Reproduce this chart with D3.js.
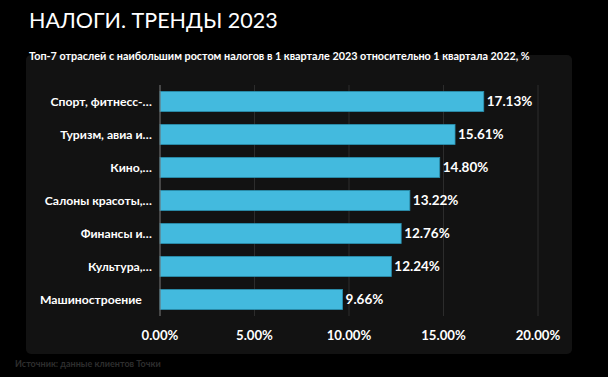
<!DOCTYPE html>
<html>
<head>
<meta charset="utf-8">
<style>
  body { margin: 0; background: #000; }
  svg { display: block; font-family: Lato, "Open Sans", sans-serif; }
</style>
</head>
<body>
<script src="https://cdn.jsdelivr.net/npm/d3@7"></script>
<script>
// данные
var categories = ["Спорт, фитнесс-…", "Туризм, авиа и…", "Кино,…", "Салоны красоты,…", "Финансы и…", "Культура,…", "Машиностроение"];
var values = [17.13, 15.61, 14.80, 13.22, 12.76, 12.24, 9.66];
var ticks = [0, 5, 10, 15, 20];
var title = "НАЛОГИ. ТРЕНДЫ 2023";
var subtitle = "Топ-7 отраслей с наибольшим ростом налогов в 1 квартале 2023 относительно 1 квартала 2022, %";
var source = "Источник: данные клиентов Точки";

var width = 608, height = 377;
var svg = d3.select("body").append("svg")
    .attr("width", width)
    .attr("height", height);

svg.append("rect").attr("width", width).attr("height", height).attr("fill", "#000");

// панель
svg.append("rect")
    .attr("x", 26).attr("y", 55)
    .attr("width", 546).attr("height", 299)
    .attr("rx", 5)
    .attr("fill", "#121212");

svg.append("text")
    .attr("x", 29).attr("y", 28)
    .attr("fill", "#fff")
    .attr("font-size", 21.5)
    .text(title);

svg.append("text")
    .attr("x", 29).attr("y", 60)
    .attr("fill", "#fff")
    .attr("font-size", 10.8)
    .attr("font-weight", "bold")
    .text(subtitle);

var x = d3.scaleLinear().domain([0, 20]).range([160, 538]);
var y = d3.scaleBand().domain(categories).range([85, 316]).paddingInner(0.39).paddingOuter(0.195);

// сетка
svg.append("g").selectAll("line")
    .data(ticks.slice(1))
    .join("line")
    .attr("x1", d => x(d)).attr("x2", d => x(d))
    .attr("y1", 85).attr("y2", 316)
    .attr("stroke", "#2c2c2c")
    .attr("stroke-width", 1);

svg.append("g").selectAll("rect")
    .data(values)
    .join("rect")
    .attr("x", x(0))
    .attr("y", (d, i) => y(categories[i]))
    .attr("width", d => x(d) - x(0))
    .attr("height", y.bandwidth())
    .attr("fill", "#43bade")
    .attr("stroke", "#2a8fae")
    .attr("stroke-width", 0.8);

// ось
svg.append("line")
    .attr("x1", x(0)).attr("x2", x(0))
    .attr("y1", 85).attr("y2", 316)
    .attr("stroke", "#7a7a7a");

svg.append("g").selectAll("text")
    .data(values)
    .join("text")
    .attr("x", d => x(d) + 3)
    .attr("y", (d, i) => y(categories[i]) + y.bandwidth() / 2)
    .attr("dy", "0.36em")
    .attr("fill", "#fff")
    .attr("font-size", 13.5)
    .attr("font-weight", "bold")
    .text(d => d.toFixed(2) + "%");

svg.append("g").selectAll("text")
    .data(categories)
    .join("text")
    .attr("x", d => d.endsWith("…") ? 152 : 40)
    .attr("y", d => y(d) + y.bandwidth() / 2)
    .attr("dy", "0.36em")
    .attr("text-anchor", d => d.endsWith("…") ? "end" : "start")
    .attr("fill", "#fff")
    .attr("font-size", 12.2)
    .attr("font-weight", "bold")
    .text(d => d);

svg.append("g").selectAll("text")
    .data(ticks)
    .join("text")
    .attr("x", d => x(d))
    .attr("y", 340)
    .attr("text-anchor", "middle")
    .attr("fill", "#fff")
    .attr("font-size", 13.2)
    .attr("font-weight", "bold")
    .text(d => d.toFixed(2) + "%");

svg.append("text")
    .attr("x", 15).attr("y", 367)
    .attr("fill", "#2e2e2e")
    .attr("font-size", 9)
    .attr("font-weight", "bold")
    .text(source);
</script>
</body>
</html>
